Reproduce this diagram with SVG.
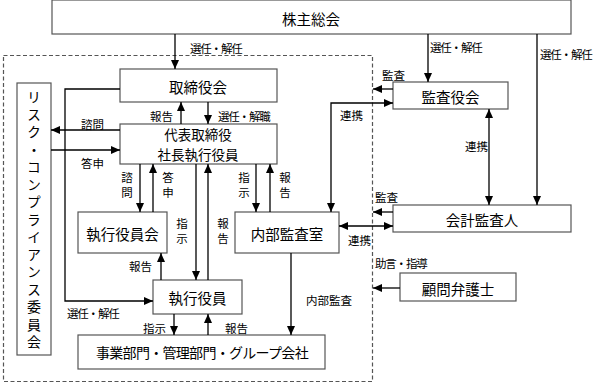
<svg xmlns="http://www.w3.org/2000/svg" width="595" height="384" viewBox="0 0 595 384">
<defs>
<marker id="ah" markerUnits="userSpaceOnUse" markerWidth="9" markerHeight="8" refX="9" refY="4" orient="auto-start-reverse">
<path d="M0,0 L9,4 L0,8 Z" fill="#000"/>
</marker>
<style>
rect.b{fill:#fff;stroke:#555;stroke-width:1.2}
text{font-family:"Noto Sans CJK JP","Noto Sans CJK SC",sans-serif;fill:#000}
.m{font-size:14.5px;text-anchor:middle;dominant-baseline:central}
.m2{font-size:13.5px}
.s{font-size:11.5px;dominant-baseline:central}
.t{letter-spacing:-1.2px}
.sc{font-size:11.5px;text-anchor:middle;dominant-baseline:central}
.v{font-size:14px;writing-mode:vertical-rl;letter-spacing:3.5px}
.c line,.c polyline{stroke:#000;stroke-width:1.3;fill:none}
.a{marker-end:url(#ah)}
.aa{marker-start:url(#ah);marker-end:url(#ah)}
</style>
</defs>
<rect width="595" height="384" fill="#fff"/>
<rect x="3.5" y="55.5" width="369" height="326" fill="none" stroke="#555" stroke-width="1.2" stroke-dasharray="4,2.5"/>

<g id="shareholders"><rect class="b" x="52" y="0" width="519" height="34"/><text class="m" x="311" y="18">株主総会</text></g>
<g id="board"><rect class="b" x="120" y="69" width="157" height="33"/><text class="m" x="198" y="86">取締役会</text></g>
<g id="ceo"><rect class="b" x="120" y="124" width="157" height="40"/><text class="m m2" x="198" y="134">代表取締役</text><text class="m m2" x="198" y="154">社長執行役員</text></g>
<g id="risk"><rect class="b" x="17" y="83" width="34" height="272"/>
<text class="v" x="34" y="90">リスク・コンプライアンス委員会</text></g>
<g id="execcommittee"><rect class="b" x="78" y="212" width="89" height="41"/><text class="m" x="122.5" y="233">執行役員会</text></g>
<g id="audit-office"><rect class="b" x="235" y="212" width="104" height="41"/><text class="m" x="287" y="233">内部監査室</text></g>
<g id="officers"><rect class="b" x="153" y="280" width="89" height="34"/><text class="m" x="197.5" y="297">執行役員</text></g>
<g id="divisions"><rect class="b" x="78" y="335" width="247" height="34"/><text class="m" x="202" y="352" style="font-size:14px;letter-spacing:-0.7px">事業部門・管理部門・グループ会社</text></g>
<g id="auditors"><rect class="b" x="393" y="82" width="115" height="27"/><text class="m" x="450.5" y="96">監査役会</text></g>
<g id="accounting"><rect class="b" x="393" y="205" width="178" height="27"/><text class="m" x="482" y="219">会計監査人</text></g>
<g id="lawyer"><rect class="b" x="400" y="273" width="116" height="28"/><text class="m" x="458" y="288">顧問弁護士</text></g>

<g id="connectors" class="c">
<line class="a" x1="175" y1="34" x2="175" y2="69"/>
<line class="a" x1="181" y1="124" x2="181" y2="102"/>
<line class="a" x1="208" y1="102" x2="208" y2="124"/>
<polyline class="a" points="120,89 65,89 65,301 153,301"/>
<line class="a" x1="120" y1="130" x2="51" y2="130"/>
<line class="a" x1="51" y1="150" x2="120" y2="150"/>
<line class="a" x1="140" y1="164" x2="140" y2="212"/>
<line class="a" x1="153" y1="212" x2="153" y2="164"/>
<line class="a" x1="196" y1="164" x2="196" y2="280"/>
<line class="a" x1="208" y1="280" x2="208" y2="164"/>
<line class="a" x1="256" y1="164" x2="256" y2="212"/>
<line class="a" x1="270" y1="212" x2="270" y2="164"/>
<line class="a" x1="161" y1="280" x2="161" y2="253"/>
<line class="a" x1="174" y1="314" x2="174" y2="335"/>
<line class="a" x1="208" y1="335" x2="208" y2="314"/>
<line class="a" x1="291" y1="253" x2="291" y2="335"/>
<line class="a" x1="428" y1="34" x2="428" y2="82"/>
<line class="a" x1="537" y1="34" x2="537" y2="205"/>
<line class="a" x1="393" y1="89" x2="373" y2="89"/>
<polyline class="aa" points="393,103 331,103 331,212"/>
<line class="aa" x1="489" y1="109" x2="489" y2="205"/>
<line class="a" x1="393" y1="212" x2="373" y2="212"/>
<line class="aa" x1="339" y1="226" x2="393" y2="226"/>
<line class="a" x1="400" y1="288" x2="373" y2="288"/>
</g>

<g id="labels">
<text class="s t" x="190" y="48">選任・解任</text>
<text class="s t" x="430" y="47">選任・解任</text>
<text class="s t" x="540" y="54">選任・解任</text>
<text class="s" x="150" y="116">報告</text>
<text class="s t" x="218" y="116">選任・解職</text>
<text class="s" x="81" y="124">諮問</text>
<text class="s" x="81" y="163">答申</text>
<text class="sc" x="127" y="177">諮</text><text class="sc" x="127" y="192">問</text>
<text class="sc" x="168" y="177">答</text><text class="sc" x="168" y="192">申</text>
<text class="sc" x="182" y="223">指</text><text class="sc" x="182" y="238">示</text>
<text class="sc" x="223" y="223">報</text><text class="sc" x="223" y="238">告</text>
<text class="sc" x="244" y="177">指</text><text class="sc" x="244" y="192">示</text>
<text class="sc" x="285" y="177">報</text><text class="sc" x="285" y="192">告</text>
<text class="s" x="129" y="266">報告</text>
<text class="s t" x="67" y="313">選任・解任</text>
<text class="s" x="143" y="328">指示</text>
<text class="s" x="225" y="328">報告</text>
<text class="s" x="306" y="300">内部監査</text>
<text class="s" x="382" y="75">監査</text>
<text class="s" x="340" y="115">連携</text>
<text class="s" x="465" y="146">連携</text>
<text class="s" x="375" y="197">監査</text>
<text class="s" x="348" y="240">連携</text>
<text class="s t" x="375" y="263">助言・指導</text>
</g>
</svg>
